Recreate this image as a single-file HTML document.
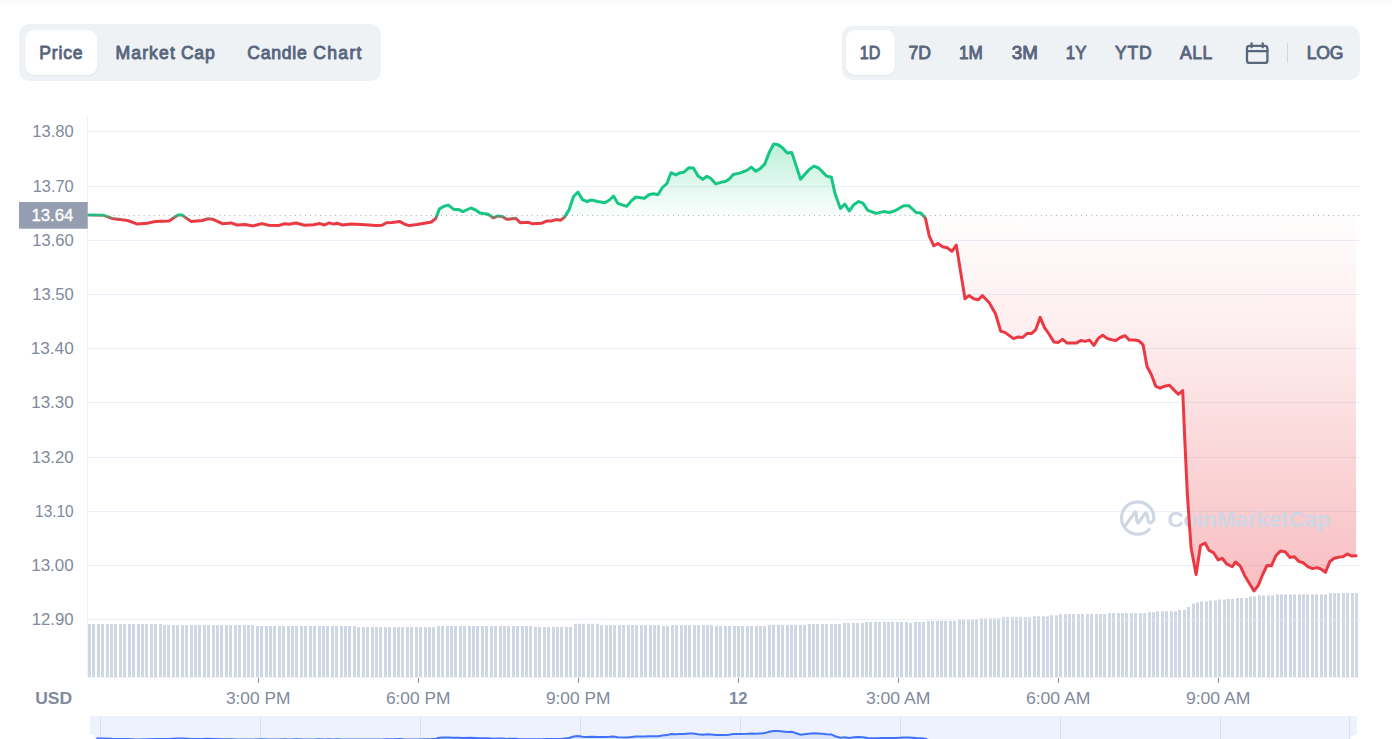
<!DOCTYPE html>
<html><head><meta charset="utf-8"><title>Chart</title>
<style>
html,body{margin:0;padding:0;background:#fff;}
body{width:1392px;height:739px;overflow:hidden;position:relative;font-family:"Liberation Sans",sans-serif;}
.topstrip{position:absolute;left:0;top:0;width:1392px;height:5px;background:linear-gradient(#f9f9fa 0,#fafafb 60%,#fff 100%);}
.grp{position:absolute;background:#eff2f5;border-radius:10px;}
.sel{position:absolute;background:#fff;border-radius:9px;box-shadow:0 1px 2px rgba(128,138,157,.12);}
svg{position:absolute;left:0;top:0;}
</style></head><body>
<div class="topstrip"></div>
<div class="grp" style="left:19px;top:24px;width:362px;height:57px;"></div>
<div class="sel" style="left:25px;top:30px;width:72px;height:45px;"></div>
<div class="grp" style="left:842px;top:26px;width:518px;height:54px;"></div>
<div class="sel" style="left:846px;top:30px;width:49px;height:45px;"></div>
<svg width="1392" height="739" viewBox="0 0 1392 739" font-family="Liberation Sans, sans-serif">
<defs>
<linearGradient id="gg" x1="0" y1="144" x2="0" y2="215" gradientUnits="userSpaceOnUse"><stop offset="0" stop-color="#16c784" stop-opacity="0.28"/><stop offset="1" stop-color="#16c784" stop-opacity="0.02"/></linearGradient>
<linearGradient id="rg" x1="0" y1="215" x2="0" y2="591" gradientUnits="userSpaceOnUse"><stop offset="0" stop-color="#ea3943" stop-opacity="0.01"/><stop offset="0.3" stop-color="#ea3943" stop-opacity="0.085"/><stop offset="1" stop-color="#ea3943" stop-opacity="0.33"/></linearGradient>
<linearGradient id="lg" x1="0" y1="0" x2="0" y2="739" gradientUnits="userSpaceOnUse"><stop offset="0.29039" stop-color="#16c784"/><stop offset="0.29716" stop-color="#ea3943"/></linearGradient>
<clipPath id="up"><rect x="0" y="0" width="1392" height="215.0"/></clipPath>
<clipPath id="dn"><rect x="0" y="215.0" width="1392" height="600"/></clipPath>
<clipPath id="navc"><rect x="90" y="716" width="1267" height="23"/></clipPath>
</defs>
<g font-size="17.6" fill="#58667e" stroke="#58667e" stroke-width="0.9" stroke-linejoin="round"><text x="39.3" y="58.7" textLength="43.2" lengthAdjust="spacing">Price</text><text x="115.5" y="58.7" textLength="59.3" lengthAdjust="spacing">Market</text><text x="180.9" y="58.7" textLength="33.8" lengthAdjust="spacing">Cap</text><text x="247.3" y="58.7" textLength="59.5" lengthAdjust="spacing">Candle</text><text x="313.2" y="58.7" textLength="48.3" lengthAdjust="spacing">Chart</text><text x="859.8" y="58.7" textLength="20.5" lengthAdjust="spacingAndGlyphs">1D</text><text x="908.5" y="58.7" textLength="22.5" lengthAdjust="spacingAndGlyphs">7D</text><text x="959.1" y="58.7" textLength="23.8" lengthAdjust="spacingAndGlyphs">1M</text><text x="1011.7" y="58.7" textLength="26.1" lengthAdjust="spacingAndGlyphs">3M</text><text x="1065.8" y="58.7" textLength="20.7" lengthAdjust="spacingAndGlyphs">1Y</text><text x="1115.1" y="58.7" textLength="36.7" lengthAdjust="spacing">YTD</text><text x="1180.1" y="58.7" textLength="32.2" lengthAdjust="spacing">ALL</text><text x="1306.7" y="58.7" textLength="36.8" lengthAdjust="spacing">LOG</text></g>
<!-- calendar icon + divider -->
<g fill="none" stroke="#58667e" stroke-width="2.3" stroke-linecap="round" stroke-linejoin="round">
<rect x="1247" y="45.8" width="20.4" height="17.1" rx="2.5"/><line x1="1247" y1="51.2" x2="1267.4" y2="51.2"/><line x1="1251.6" y1="43.4" x2="1251.6" y2="47.3"/><line x1="1262.7" y1="43.4" x2="1262.7" y2="47.3"/>
</g>
<line x1="1287.5" y1="43.2" x2="1287.5" y2="62.9" stroke="#cfd6e4" stroke-width="1"/>
<!-- grid -->
<g stroke="#ecf0fa" stroke-width="1"><line x1="88" x2="1360" y1="131.50" y2="131.50"/><line x1="88" x2="1360" y1="186.50" y2="186.50"/><line x1="88" x2="1360" y1="240.50" y2="240.50"/><line x1="88" x2="1360" y1="294.50" y2="294.50"/><line x1="88" x2="1360" y1="348.50" y2="348.50"/><line x1="88" x2="1360" y1="402.50" y2="402.50"/><line x1="88" x2="1360" y1="457.50" y2="457.50"/><line x1="88" x2="1360" y1="511.50" y2="511.50"/><line x1="88" x2="1360" y1="565.50" y2="565.50"/><line x1="88" x2="1360" y1="619.50" y2="619.50"/><line x1="87.5" x2="87.5" y1="116" y2="677"/></g>
<g font-size="15.8" fill="#808a9d"><text x="32.2" y="136.7" textLength="41.5" lengthAdjust="spacingAndGlyphs">13.80</text><text x="32.7" y="191.7" textLength="41" lengthAdjust="spacingAndGlyphs">13.70</text><text x="32.2" y="245.7" textLength="41.5" lengthAdjust="spacingAndGlyphs">13.60</text><text x="32.2" y="299.7" textLength="41.5" lengthAdjust="spacingAndGlyphs">13.50</text><text x="30.7" y="353.7" textLength="43" lengthAdjust="spacingAndGlyphs">13.40</text><text x="31.2" y="407.7" textLength="42.5" lengthAdjust="spacingAndGlyphs">13.30</text><text x="31.7" y="462.7" textLength="42" lengthAdjust="spacingAndGlyphs">13.20</text><text x="35.1" y="516.7" textLength="38.6" lengthAdjust="spacingAndGlyphs">13.10</text><text x="31.2" y="570.7" textLength="42.5" lengthAdjust="spacingAndGlyphs">13.00</text><text x="31.7" y="624.7" textLength="42" lengthAdjust="spacingAndGlyphs">12.90</text></g>
<!-- volume -->
<g fill="#cfd6e4"><rect x="88" y="624.0" width="3" height="53.0"/><rect x="92" y="624.0" width="3" height="53.0"/><rect x="97" y="624.0" width="3" height="53.0"/><rect x="101" y="624.0" width="3" height="53.0"/><rect x="106" y="624.0" width="3" height="53.0"/><rect x="110" y="624.0" width="3" height="53.0"/><rect x="114" y="624.0" width="3" height="53.0"/><rect x="119" y="624.0" width="3" height="53.0"/><rect x="123" y="624.0" width="3" height="53.0"/><rect x="128" y="624.0" width="3" height="53.0"/><rect x="132" y="624.0" width="3" height="53.0"/><rect x="137" y="624.0" width="3" height="53.0"/><rect x="141" y="624.0" width="3" height="53.0"/><rect x="145" y="624.0" width="3" height="53.0"/><rect x="150" y="624.0" width="3" height="53.0"/><rect x="154" y="624.0" width="3" height="53.0"/><rect x="159" y="624.0" width="3" height="53.0"/><rect x="163" y="625.0" width="3" height="52.0"/><rect x="167" y="625.0" width="3" height="52.0"/><rect x="172" y="625.0" width="3" height="52.0"/><rect x="176" y="625.0" width="3" height="52.0"/><rect x="181" y="625.0" width="3" height="52.0"/><rect x="185" y="625.0" width="3" height="52.0"/><rect x="190" y="625.0" width="3" height="52.0"/><rect x="194" y="625.0" width="3" height="52.0"/><rect x="198" y="625.0" width="3" height="52.0"/><rect x="203" y="625.0" width="3" height="52.0"/><rect x="207" y="625.0" width="3" height="52.0"/><rect x="212" y="625.0" width="3" height="52.0"/><rect x="216" y="625.0" width="3" height="52.0"/><rect x="220" y="625.0" width="3" height="52.0"/><rect x="225" y="625.0" width="3" height="52.0"/><rect x="229" y="625.0" width="3" height="52.0"/><rect x="234" y="625.0" width="3" height="52.0"/><rect x="238" y="625.0" width="3" height="52.0"/><rect x="243" y="625.0" width="3" height="52.0"/><rect x="247" y="625.0" width="3" height="52.0"/><rect x="251" y="625.0" width="3" height="52.0"/><rect x="256" y="626.0" width="3" height="51.0"/><rect x="260" y="626.0" width="3" height="51.0"/><rect x="265" y="626.0" width="3" height="51.0"/><rect x="269" y="626.0" width="3" height="51.0"/><rect x="273" y="626.0" width="3" height="51.0"/><rect x="278" y="626.0" width="3" height="51.0"/><rect x="282" y="626.0" width="3" height="51.0"/><rect x="287" y="626.0" width="3" height="51.0"/><rect x="291" y="626.0" width="3" height="51.0"/><rect x="295" y="626.0" width="3" height="51.0"/><rect x="300" y="626.0" width="3" height="51.0"/><rect x="304" y="626.0" width="3" height="51.0"/><rect x="309" y="626.0" width="3" height="51.0"/><rect x="313" y="626.0" width="3" height="51.0"/><rect x="318" y="626.0" width="3" height="51.0"/><rect x="322" y="626.0" width="3" height="51.0"/><rect x="326" y="626.0" width="3" height="51.0"/><rect x="331" y="626.0" width="3" height="51.0"/><rect x="335" y="626.0" width="3" height="51.0"/><rect x="340" y="626.0" width="3" height="51.0"/><rect x="344" y="626.0" width="3" height="51.0"/><rect x="348" y="626.0" width="3" height="51.0"/><rect x="353" y="626.0" width="3" height="51.0"/><rect x="357" y="627.2" width="3" height="49.8"/><rect x="362" y="627.2" width="3" height="49.8"/><rect x="366" y="627.2" width="3" height="49.8"/><rect x="371" y="627.2" width="3" height="49.8"/><rect x="375" y="627.2" width="3" height="49.8"/><rect x="379" y="627.2" width="3" height="49.8"/><rect x="384" y="627.2" width="3" height="49.8"/><rect x="388" y="627.2" width="3" height="49.8"/><rect x="393" y="627.2" width="3" height="49.8"/><rect x="397" y="627.2" width="3" height="49.8"/><rect x="401" y="627.2" width="3" height="49.8"/><rect x="406" y="627.2" width="3" height="49.8"/><rect x="410" y="627.2" width="3" height="49.8"/><rect x="415" y="627.2" width="3" height="49.8"/><rect x="419" y="627.2" width="3" height="49.8"/><rect x="424" y="627.2" width="3" height="49.8"/><rect x="428" y="627.2" width="3" height="49.8"/><rect x="432" y="627.2" width="3" height="49.8"/><rect x="437" y="626.0" width="3" height="51.0"/><rect x="441" y="626.0" width="3" height="51.0"/><rect x="446" y="626.0" width="3" height="51.0"/><rect x="450" y="626.0" width="3" height="51.0"/><rect x="454" y="626.0" width="3" height="51.0"/><rect x="459" y="626.0" width="3" height="51.0"/><rect x="463" y="626.0" width="3" height="51.0"/><rect x="468" y="626.0" width="3" height="51.0"/><rect x="472" y="626.0" width="3" height="51.0"/><rect x="476" y="626.0" width="3" height="51.0"/><rect x="481" y="626.0" width="3" height="51.0"/><rect x="485" y="626.0" width="3" height="51.0"/><rect x="490" y="626.0" width="3" height="51.0"/><rect x="494" y="626.0" width="3" height="51.0"/><rect x="499" y="626.0" width="3" height="51.0"/><rect x="503" y="626.0" width="3" height="51.0"/><rect x="507" y="626.0" width="3" height="51.0"/><rect x="512" y="626.0" width="3" height="51.0"/><rect x="516" y="626.0" width="3" height="51.0"/><rect x="521" y="626.0" width="3" height="51.0"/><rect x="525" y="626.0" width="3" height="51.0"/><rect x="529" y="626.0" width="3" height="51.0"/><rect x="534" y="627.0" width="3" height="50.0"/><rect x="538" y="627.0" width="3" height="50.0"/><rect x="543" y="627.0" width="3" height="50.0"/><rect x="547" y="627.0" width="3" height="50.0"/><rect x="552" y="627.0" width="3" height="50.0"/><rect x="556" y="627.0" width="3" height="50.0"/><rect x="560" y="627.0" width="3" height="50.0"/><rect x="565" y="627.0" width="3" height="50.0"/><rect x="569" y="627.0" width="3" height="50.0"/><rect x="574" y="623.8" width="3" height="53.2"/><rect x="578" y="623.8" width="3" height="53.2"/><rect x="582" y="623.8" width="3" height="53.2"/><rect x="587" y="623.8" width="3" height="53.2"/><rect x="591" y="623.8" width="3" height="53.2"/><rect x="596" y="623.8" width="3" height="53.2"/><rect x="600" y="625.0" width="3" height="52.0"/><rect x="605" y="625.0" width="3" height="52.0"/><rect x="609" y="625.0" width="3" height="52.0"/><rect x="613" y="625.0" width="3" height="52.0"/><rect x="618" y="625.0" width="3" height="52.0"/><rect x="622" y="625.0" width="3" height="52.0"/><rect x="627" y="625.0" width="3" height="52.0"/><rect x="631" y="625.0" width="3" height="52.0"/><rect x="635" y="625.0" width="3" height="52.0"/><rect x="640" y="625.0" width="3" height="52.0"/><rect x="644" y="625.0" width="3" height="52.0"/><rect x="649" y="625.0" width="3" height="52.0"/><rect x="653" y="625.0" width="3" height="52.0"/><rect x="657" y="625.0" width="3" height="52.0"/><rect x="662" y="626.0" width="3" height="51.0"/><rect x="666" y="626.0" width="3" height="51.0"/><rect x="671" y="625.0" width="3" height="52.0"/><rect x="675" y="625.0" width="3" height="52.0"/><rect x="680" y="625.0" width="3" height="52.0"/><rect x="684" y="625.0" width="3" height="52.0"/><rect x="688" y="625.0" width="3" height="52.0"/><rect x="693" y="625.0" width="3" height="52.0"/><rect x="697" y="625.0" width="3" height="52.0"/><rect x="702" y="625.0" width="3" height="52.0"/><rect x="706" y="625.0" width="3" height="52.0"/><rect x="710" y="625.0" width="3" height="52.0"/><rect x="715" y="626.0" width="3" height="51.0"/><rect x="719" y="626.0" width="3" height="51.0"/><rect x="724" y="626.0" width="3" height="51.0"/><rect x="728" y="626.0" width="3" height="51.0"/><rect x="733" y="626.0" width="3" height="51.0"/><rect x="737" y="626.0" width="3" height="51.0"/><rect x="741" y="626.0" width="3" height="51.0"/><rect x="746" y="626.0" width="3" height="51.0"/><rect x="750" y="626.0" width="3" height="51.0"/><rect x="755" y="626.0" width="3" height="51.0"/><rect x="759" y="626.0" width="3" height="51.0"/><rect x="763" y="626.0" width="3" height="51.0"/><rect x="768" y="624.9" width="3" height="52.1"/><rect x="772" y="624.9" width="3" height="52.1"/><rect x="777" y="624.9" width="3" height="52.1"/><rect x="781" y="624.9" width="3" height="52.1"/><rect x="786" y="624.9" width="3" height="52.1"/><rect x="790" y="624.9" width="3" height="52.1"/><rect x="794" y="624.9" width="3" height="52.1"/><rect x="799" y="624.9" width="3" height="52.1"/><rect x="803" y="624.9" width="3" height="52.1"/><rect x="808" y="624.0" width="3" height="53.0"/><rect x="812" y="624.0" width="3" height="53.0"/><rect x="816" y="624.0" width="3" height="53.0"/><rect x="821" y="624.0" width="3" height="53.0"/><rect x="825" y="624.0" width="3" height="53.0"/><rect x="830" y="624.0" width="3" height="53.0"/><rect x="834" y="624.0" width="3" height="53.0"/><rect x="838" y="624.0" width="3" height="53.0"/><rect x="843" y="623.0" width="3" height="54.0"/><rect x="847" y="623.0" width="3" height="54.0"/><rect x="852" y="623.0" width="3" height="54.0"/><rect x="856" y="623.0" width="3" height="54.0"/><rect x="861" y="623.0" width="3" height="54.0"/><rect x="865" y="622.1" width="3" height="54.9"/><rect x="869" y="622.1" width="3" height="54.9"/><rect x="874" y="622.1" width="3" height="54.9"/><rect x="878" y="622.1" width="3" height="54.9"/><rect x="883" y="622.1" width="3" height="54.9"/><rect x="887" y="622.1" width="3" height="54.9"/><rect x="891" y="622.1" width="3" height="54.9"/><rect x="896" y="622.1" width="3" height="54.9"/><rect x="900" y="622.1" width="3" height="54.9"/><rect x="905" y="622.1" width="3" height="54.9"/><rect x="909" y="623.0" width="3" height="54.0"/><rect x="914" y="622.0" width="3" height="55.0"/><rect x="918" y="622.0" width="3" height="55.0"/><rect x="922" y="622.0" width="3" height="55.0"/><rect x="927" y="620.9" width="3" height="56.1"/><rect x="931" y="620.9" width="3" height="56.1"/><rect x="936" y="620.9" width="3" height="56.1"/><rect x="940" y="620.9" width="3" height="56.1"/><rect x="944" y="620.9" width="3" height="56.1"/><rect x="949" y="620.9" width="3" height="56.1"/><rect x="953" y="620.9" width="3" height="56.1"/><rect x="958" y="619.3" width="3" height="57.7"/><rect x="962" y="619.3" width="3" height="57.7"/><rect x="967" y="619.3" width="3" height="57.7"/><rect x="971" y="619.3" width="3" height="57.7"/><rect x="975" y="619.3" width="3" height="57.7"/><rect x="980" y="618.4" width="3" height="58.6"/><rect x="984" y="618.4" width="3" height="58.6"/><rect x="989" y="618.4" width="3" height="58.6"/><rect x="993" y="618.4" width="3" height="58.6"/><rect x="997" y="618.4" width="3" height="58.6"/><rect x="1002" y="617.2" width="3" height="59.8"/><rect x="1006" y="617.2" width="3" height="59.8"/><rect x="1011" y="617.2" width="3" height="59.8"/><rect x="1015" y="617.2" width="3" height="59.8"/><rect x="1019" y="617.2" width="3" height="59.8"/><rect x="1024" y="617.2" width="3" height="59.8"/><rect x="1028" y="617.2" width="3" height="59.8"/><rect x="1033" y="616.3" width="3" height="60.7"/><rect x="1037" y="616.3" width="3" height="60.7"/><rect x="1042" y="616.3" width="3" height="60.7"/><rect x="1046" y="616.3" width="3" height="60.7"/><rect x="1050" y="615.3" width="3" height="61.7"/><rect x="1055" y="615.3" width="3" height="61.7"/><rect x="1059" y="614.1" width="3" height="62.9"/><rect x="1064" y="614.1" width="3" height="62.9"/><rect x="1068" y="614.1" width="3" height="62.9"/><rect x="1072" y="614.1" width="3" height="62.9"/><rect x="1077" y="614.1" width="3" height="62.9"/><rect x="1081" y="614.1" width="3" height="62.9"/><rect x="1086" y="614.1" width="3" height="62.9"/><rect x="1090" y="614.1" width="3" height="62.9"/><rect x="1095" y="614.1" width="3" height="62.9"/><rect x="1099" y="614.1" width="3" height="62.9"/><rect x="1103" y="614.1" width="3" height="62.9"/><rect x="1108" y="613.2" width="3" height="63.8"/><rect x="1112" y="613.2" width="3" height="63.8"/><rect x="1117" y="613.2" width="3" height="63.8"/><rect x="1121" y="613.2" width="3" height="63.8"/><rect x="1125" y="613.2" width="3" height="63.8"/><rect x="1130" y="613.2" width="3" height="63.8"/><rect x="1134" y="613.2" width="3" height="63.8"/><rect x="1139" y="613.2" width="3" height="63.8"/><rect x="1143" y="613.2" width="3" height="63.8"/><rect x="1148" y="612.2" width="3" height="64.8"/><rect x="1152" y="612.2" width="3" height="64.8"/><rect x="1156" y="611.3" width="3" height="65.7"/><rect x="1161" y="611.3" width="3" height="65.7"/><rect x="1165" y="611.3" width="3" height="65.7"/><rect x="1170" y="611.3" width="3" height="65.7"/><rect x="1174" y="611.3" width="3" height="65.7"/><rect x="1178" y="610.0" width="3" height="67.0"/><rect x="1183" y="610.0" width="3" height="67.0"/><rect x="1187" y="607.0" width="3" height="70.0"/><rect x="1192" y="603.5" width="3" height="73.5"/><rect x="1196" y="602.3" width="3" height="74.7"/><rect x="1200" y="601.4" width="3" height="75.6"/><rect x="1205" y="601.4" width="3" height="75.6"/><rect x="1209" y="600.5" width="3" height="76.5"/><rect x="1214" y="600.5" width="3" height="76.5"/><rect x="1218" y="599.5" width="3" height="77.5"/><rect x="1223" y="599.5" width="3" height="77.5"/><rect x="1227" y="598.8" width="3" height="78.2"/><rect x="1231" y="598.8" width="3" height="78.2"/><rect x="1236" y="598.0" width="3" height="79.0"/><rect x="1240" y="598.0" width="3" height="79.0"/><rect x="1245" y="598.0" width="3" height="79.0"/><rect x="1249" y="596.5" width="3" height="80.5"/><rect x="1253" y="596.5" width="3" height="80.5"/><rect x="1258" y="595.3" width="3" height="81.7"/><rect x="1262" y="595.3" width="3" height="81.7"/><rect x="1267" y="595.3" width="3" height="81.7"/><rect x="1271" y="595.3" width="3" height="81.7"/><rect x="1276" y="594.3" width="3" height="82.7"/><rect x="1280" y="594.3" width="3" height="82.7"/><rect x="1284" y="594.3" width="3" height="82.7"/><rect x="1289" y="594.3" width="3" height="82.7"/><rect x="1293" y="594.3" width="3" height="82.7"/><rect x="1298" y="594.3" width="3" height="82.7"/><rect x="1302" y="594.3" width="3" height="82.7"/><rect x="1306" y="594.3" width="3" height="82.7"/><rect x="1311" y="594.3" width="3" height="82.7"/><rect x="1315" y="594.3" width="3" height="82.7"/><rect x="1320" y="594.3" width="3" height="82.7"/><rect x="1324" y="594.3" width="3" height="82.7"/><rect x="1329" y="593.0" width="3" height="84.0"/><rect x="1333" y="593.0" width="3" height="84.0"/><rect x="1337" y="593.0" width="3" height="84.0"/><rect x="1342" y="593.0" width="3" height="84.0"/><rect x="1346" y="593.0" width="3" height="84.0"/><rect x="1351" y="593.0" width="3" height="84.0"/><rect x="1355" y="593.0" width="3" height="84.0"/></g>
<line x1="957" x2="1360" y1="619.5" y2="619.5" stroke="#eef1f8" stroke-opacity="0.55"/>
<!-- areas -->
<path d="M88.6,215.1 L103.0,215.2 L112.0,218.4 L127.6,220.5 L137.5,224.1 L147.0,223.2 L156.0,221.4 L169.0,220.9 L178.0,215.1 L182.0,215.0 L191.0,221.4 L202.0,220.5 L208.0,218.7 L213.0,219.3 L223.0,223.8 L231.0,222.9 L237.0,225.0 L245.0,224.5 L253.0,225.9 L262.0,223.6 L268.6,225.2 L279.0,225.4 L284.7,223.8 L289.0,224.3 L296.0,223.0 L304.5,225.2 L313.5,224.7 L319.8,223.6 L324.5,225.0 L329.0,222.9 L333.5,224.1 L337.0,223.2 L342.5,225.0 L351.4,224.1 L365.0,224.7 L375.7,225.4 L382.0,225.2 L386.5,222.7 L392.0,222.5 L400.0,221.6 L405.3,224.5 L409.8,225.6 L417.0,224.5 L426.0,222.9 L431.4,222.0 L435.8,218.4 L439.4,208.9 L444.0,206.2 L448.4,205.1 L453.8,209.4 L458.3,209.4 L462.8,211.6 L470.9,208.0 L475.4,209.8 L479.8,213.0 L488.0,214.2 L493.3,217.8 L497.8,216.0 L502.3,216.4 L506.8,219.3 L515.8,218.2 L520.3,222.7 L528.3,222.3 L532.8,223.8 L541.8,223.2 L547.2,220.9 L551.7,220.9 L556.2,219.6 L560.7,220.2 L564.5,217.1 L569.0,209.9 L573.5,196.5 L578.0,192.0 L582.5,199.7 L587.0,201.5 L591.4,200.0 L597.7,201.5 L604.9,202.7 L609.4,200.0 L613.5,196.1 L617.8,203.3 L626.8,206.3 L631.3,200.9 L635.8,197.0 L644.4,198.2 L648.9,194.7 L653.4,193.8 L657.9,194.7 L662.4,187.5 L666.9,183.5 L671.0,172.7 L675.8,174.9 L680.3,172.7 L683.9,172.2 L689.0,167.7 L693.4,168.1 L697.9,175.8 L702.8,179.4 L706.9,176.3 L710.9,178.5 L715.9,183.9 L721.6,182.1 L725.2,181.5 L728.8,179.4 L733.3,174.5 L739.6,173.1 L746.8,170.4 L751.3,167.2 L755.8,171.3 L760.2,168.6 L764.7,164.1 L769.2,152.5 L773.7,144.0 L778.2,144.7 L782.7,148.0 L787.2,153.0 L791.7,152.4 L796.2,165.9 L800.5,179.3 L808.7,169.9 L814.0,166.1 L818.6,168.0 L826.7,176.1 L831.4,177.3 L835.1,193.8 L840.4,208.5 L844.8,204.1 L849.2,211.0 L853.8,204.7 L858.5,201.6 L862.9,203.2 L867.8,210.3 L876.2,213.4 L883.4,211.6 L889.6,212.5 L895.9,210.3 L903.6,205.7 L908.9,205.7 L916.1,212.5 L920.8,213.1 L925.4,218.1 L929.2,235.9 L933.8,245.8 L937.9,243.6 L942.6,246.7 L947.2,247.7 L951.9,251.4 L956.3,245.2 L960.6,271.7 L965.0,298.7 L969.0,295.6 L973.7,298.7 L978.4,299.7 L982.4,295.6 L989.3,302.8 L995.5,313.7 L1000.8,331.4 L1004.8,332.4 L1013.5,338.6 L1017.9,337.0 L1022.6,337.5 L1027.0,333.6 L1031.4,333.6 L1035.8,329.6 L1040.2,317.3 L1044.6,327.8 L1049.0,334.0 L1053.8,341.9 L1058.3,342.4 L1062.6,339.3 L1067.1,343.1 L1076.3,343.1 L1080.7,340.5 L1085.1,341.4 L1089.5,340.1 L1093.9,345.4 L1098.3,338.4 L1102.7,335.2 L1107.1,338.4 L1111.5,339.8 L1115.9,340.5 L1120.3,337.5 L1125.0,335.7 L1129.4,340.1 L1134.3,340.1 L1138.7,340.7 L1143.1,344.9 L1147.0,366.5 L1151.4,374.8 L1155.8,386.4 L1160.2,388.2 L1164.6,386.2 L1169.5,385.3 L1173.9,389.9 L1178.3,394.3 L1182.7,390.6 L1184.9,442.2 L1187.4,495.1 L1191.1,548.0 L1196.1,574.5 L1200.5,545.5 L1205.1,543.0 L1209.2,550.5 L1213.5,552.7 L1218.2,559.9 L1222.2,558.3 L1226.9,564.2 L1232.2,566.7 L1235.6,562.0 L1240.3,566.1 L1244.6,575.4 L1249.6,583.8 L1254.0,591.0 L1258.3,585.4 L1262.7,574.5 L1267.0,565.5 L1271.4,565.8 L1275.8,555.8 L1280.4,551.1 L1285.1,551.8 L1290.1,557.4 L1294.4,556.8 L1298.8,561.4 L1303.1,562.7 L1307.8,566.7 L1312.5,568.6 L1317.1,567.6 L1321.2,569.2 L1325.5,572.3 L1329.9,561.4 L1334.3,558.3 L1338.9,557.1 L1343.0,556.8 L1347.3,553.9 L1351.7,556.1 L1356.0,555.8 L1356.0,215.0 L88.6,215.0 Z" fill="url(#gg)" clip-path="url(#up)"/>
<path d="M88.6,215.1 L103.0,215.2 L112.0,218.4 L127.6,220.5 L137.5,224.1 L147.0,223.2 L156.0,221.4 L169.0,220.9 L178.0,215.1 L182.0,215.0 L191.0,221.4 L202.0,220.5 L208.0,218.7 L213.0,219.3 L223.0,223.8 L231.0,222.9 L237.0,225.0 L245.0,224.5 L253.0,225.9 L262.0,223.6 L268.6,225.2 L279.0,225.4 L284.7,223.8 L289.0,224.3 L296.0,223.0 L304.5,225.2 L313.5,224.7 L319.8,223.6 L324.5,225.0 L329.0,222.9 L333.5,224.1 L337.0,223.2 L342.5,225.0 L351.4,224.1 L365.0,224.7 L375.7,225.4 L382.0,225.2 L386.5,222.7 L392.0,222.5 L400.0,221.6 L405.3,224.5 L409.8,225.6 L417.0,224.5 L426.0,222.9 L431.4,222.0 L435.8,218.4 L439.4,208.9 L444.0,206.2 L448.4,205.1 L453.8,209.4 L458.3,209.4 L462.8,211.6 L470.9,208.0 L475.4,209.8 L479.8,213.0 L488.0,214.2 L493.3,217.8 L497.8,216.0 L502.3,216.4 L506.8,219.3 L515.8,218.2 L520.3,222.7 L528.3,222.3 L532.8,223.8 L541.8,223.2 L547.2,220.9 L551.7,220.9 L556.2,219.6 L560.7,220.2 L564.5,217.1 L569.0,209.9 L573.5,196.5 L578.0,192.0 L582.5,199.7 L587.0,201.5 L591.4,200.0 L597.7,201.5 L604.9,202.7 L609.4,200.0 L613.5,196.1 L617.8,203.3 L626.8,206.3 L631.3,200.9 L635.8,197.0 L644.4,198.2 L648.9,194.7 L653.4,193.8 L657.9,194.7 L662.4,187.5 L666.9,183.5 L671.0,172.7 L675.8,174.9 L680.3,172.7 L683.9,172.2 L689.0,167.7 L693.4,168.1 L697.9,175.8 L702.8,179.4 L706.9,176.3 L710.9,178.5 L715.9,183.9 L721.6,182.1 L725.2,181.5 L728.8,179.4 L733.3,174.5 L739.6,173.1 L746.8,170.4 L751.3,167.2 L755.8,171.3 L760.2,168.6 L764.7,164.1 L769.2,152.5 L773.7,144.0 L778.2,144.7 L782.7,148.0 L787.2,153.0 L791.7,152.4 L796.2,165.9 L800.5,179.3 L808.7,169.9 L814.0,166.1 L818.6,168.0 L826.7,176.1 L831.4,177.3 L835.1,193.8 L840.4,208.5 L844.8,204.1 L849.2,211.0 L853.8,204.7 L858.5,201.6 L862.9,203.2 L867.8,210.3 L876.2,213.4 L883.4,211.6 L889.6,212.5 L895.9,210.3 L903.6,205.7 L908.9,205.7 L916.1,212.5 L920.8,213.1 L925.4,218.1 L929.2,235.9 L933.8,245.8 L937.9,243.6 L942.6,246.7 L947.2,247.7 L951.9,251.4 L956.3,245.2 L960.6,271.7 L965.0,298.7 L969.0,295.6 L973.7,298.7 L978.4,299.7 L982.4,295.6 L989.3,302.8 L995.5,313.7 L1000.8,331.4 L1004.8,332.4 L1013.5,338.6 L1017.9,337.0 L1022.6,337.5 L1027.0,333.6 L1031.4,333.6 L1035.8,329.6 L1040.2,317.3 L1044.6,327.8 L1049.0,334.0 L1053.8,341.9 L1058.3,342.4 L1062.6,339.3 L1067.1,343.1 L1076.3,343.1 L1080.7,340.5 L1085.1,341.4 L1089.5,340.1 L1093.9,345.4 L1098.3,338.4 L1102.7,335.2 L1107.1,338.4 L1111.5,339.8 L1115.9,340.5 L1120.3,337.5 L1125.0,335.7 L1129.4,340.1 L1134.3,340.1 L1138.7,340.7 L1143.1,344.9 L1147.0,366.5 L1151.4,374.8 L1155.8,386.4 L1160.2,388.2 L1164.6,386.2 L1169.5,385.3 L1173.9,389.9 L1178.3,394.3 L1182.7,390.6 L1184.9,442.2 L1187.4,495.1 L1191.1,548.0 L1196.1,574.5 L1200.5,545.5 L1205.1,543.0 L1209.2,550.5 L1213.5,552.7 L1218.2,559.9 L1222.2,558.3 L1226.9,564.2 L1232.2,566.7 L1235.6,562.0 L1240.3,566.1 L1244.6,575.4 L1249.6,583.8 L1254.0,591.0 L1258.3,585.4 L1262.7,574.5 L1267.0,565.5 L1271.4,565.8 L1275.8,555.8 L1280.4,551.1 L1285.1,551.8 L1290.1,557.4 L1294.4,556.8 L1298.8,561.4 L1303.1,562.7 L1307.8,566.7 L1312.5,568.6 L1317.1,567.6 L1321.2,569.2 L1325.5,572.3 L1329.9,561.4 L1334.3,558.3 L1338.9,557.1 L1343.0,556.8 L1347.3,553.9 L1351.7,556.1 L1356.0,555.8 L1356.0,215.0 L88.6,215.0 Z" fill="url(#rg)" clip-path="url(#dn)"/>
<!-- baseline -->
<line x1="88.2" x2="1360" y1="215.5" y2="215.5" stroke="#a3abba" stroke-width="1" stroke-dasharray="1 4.04"/>
<!-- watermark -->
<g opacity="1">
<path d="M1149.2,529.5 A16.2,16.2 0 1 1 1153.9,518 Q1153.9,521 1151,522.6 Q1149,523.6 1148.2,520.5 L1146.8,514 Q1146.3,511.8 1145,513.5 L1139,522 Q1137.5,524 1137,521.5 L1136,513 Q1135.6,511 1134.6,512.6 L1125.8,525" fill="none" stroke="#cfd6e4" stroke-width="3.1" stroke-linecap="round" stroke-linejoin="round"/>
<text x="1167.4" y="526.7" font-size="21.6" font-weight="bold" fill="#cfd6e4" textLength="163" lengthAdjust="spacingAndGlyphs">CoinMarketCap</text>
</g>
<!-- lines -->
<path d="M88.6,215.1 L103.0,215.2 L112.0,218.4 L127.6,220.5 L137.5,224.1 L147.0,223.2 L156.0,221.4 L169.0,220.9 L178.0,215.1 L182.0,215.0 L191.0,221.4 L202.0,220.5 L208.0,218.7 L213.0,219.3 L223.0,223.8 L231.0,222.9 L237.0,225.0 L245.0,224.5 L253.0,225.9 L262.0,223.6 L268.6,225.2 L279.0,225.4 L284.7,223.8 L289.0,224.3 L296.0,223.0 L304.5,225.2 L313.5,224.7 L319.8,223.6 L324.5,225.0 L329.0,222.9 L333.5,224.1 L337.0,223.2 L342.5,225.0 L351.4,224.1 L365.0,224.7 L375.7,225.4 L382.0,225.2 L386.5,222.7 L392.0,222.5 L400.0,221.6 L405.3,224.5 L409.8,225.6 L417.0,224.5 L426.0,222.9 L431.4,222.0 L435.8,218.4 L439.4,208.9 L444.0,206.2 L448.4,205.1 L453.8,209.4 L458.3,209.4 L462.8,211.6 L470.9,208.0 L475.4,209.8 L479.8,213.0 L488.0,214.2 L493.3,217.8 L497.8,216.0 L502.3,216.4 L506.8,219.3 L515.8,218.2 L520.3,222.7 L528.3,222.3 L532.8,223.8 L541.8,223.2 L547.2,220.9 L551.7,220.9 L556.2,219.6 L560.7,220.2 L564.5,217.1 L569.0,209.9 L573.5,196.5 L578.0,192.0 L582.5,199.7 L587.0,201.5 L591.4,200.0 L597.7,201.5 L604.9,202.7 L609.4,200.0 L613.5,196.1 L617.8,203.3 L626.8,206.3 L631.3,200.9 L635.8,197.0 L644.4,198.2 L648.9,194.7 L653.4,193.8 L657.9,194.7 L662.4,187.5 L666.9,183.5 L671.0,172.7 L675.8,174.9 L680.3,172.7 L683.9,172.2 L689.0,167.7 L693.4,168.1 L697.9,175.8 L702.8,179.4 L706.9,176.3 L710.9,178.5 L715.9,183.9 L721.6,182.1 L725.2,181.5 L728.8,179.4 L733.3,174.5 L739.6,173.1 L746.8,170.4 L751.3,167.2 L755.8,171.3 L760.2,168.6 L764.7,164.1 L769.2,152.5 L773.7,144.0 L778.2,144.7 L782.7,148.0 L787.2,153.0 L791.7,152.4 L796.2,165.9 L800.5,179.3 L808.7,169.9 L814.0,166.1 L818.6,168.0 L826.7,176.1 L831.4,177.3 L835.1,193.8 L840.4,208.5 L844.8,204.1 L849.2,211.0 L853.8,204.7 L858.5,201.6 L862.9,203.2 L867.8,210.3 L876.2,213.4 L883.4,211.6 L889.6,212.5 L895.9,210.3 L903.6,205.7 L908.9,205.7 L916.1,212.5 L920.8,213.1 L925.4,218.1 L929.2,235.9 L933.8,245.8 L937.9,243.6 L942.6,246.7 L947.2,247.7 L951.9,251.4 L956.3,245.2 L960.6,271.7 L965.0,298.7 L969.0,295.6 L973.7,298.7 L978.4,299.7 L982.4,295.6 L989.3,302.8 L995.5,313.7 L1000.8,331.4 L1004.8,332.4 L1013.5,338.6 L1017.9,337.0 L1022.6,337.5 L1027.0,333.6 L1031.4,333.6 L1035.8,329.6 L1040.2,317.3 L1044.6,327.8 L1049.0,334.0 L1053.8,341.9 L1058.3,342.4 L1062.6,339.3 L1067.1,343.1 L1076.3,343.1 L1080.7,340.5 L1085.1,341.4 L1089.5,340.1 L1093.9,345.4 L1098.3,338.4 L1102.7,335.2 L1107.1,338.4 L1111.5,339.8 L1115.9,340.5 L1120.3,337.5 L1125.0,335.7 L1129.4,340.1 L1134.3,340.1 L1138.7,340.7 L1143.1,344.9 L1147.0,366.5 L1151.4,374.8 L1155.8,386.4 L1160.2,388.2 L1164.6,386.2 L1169.5,385.3 L1173.9,389.9 L1178.3,394.3 L1182.7,390.6 L1184.9,442.2 L1187.4,495.1 L1191.1,548.0 L1196.1,574.5 L1200.5,545.5 L1205.1,543.0 L1209.2,550.5 L1213.5,552.7 L1218.2,559.9 L1222.2,558.3 L1226.9,564.2 L1232.2,566.7 L1235.6,562.0 L1240.3,566.1 L1244.6,575.4 L1249.6,583.8 L1254.0,591.0 L1258.3,585.4 L1262.7,574.5 L1267.0,565.5 L1271.4,565.8 L1275.8,555.8 L1280.4,551.1 L1285.1,551.8 L1290.1,557.4 L1294.4,556.8 L1298.8,561.4 L1303.1,562.7 L1307.8,566.7 L1312.5,568.6 L1317.1,567.6 L1321.2,569.2 L1325.5,572.3 L1329.9,561.4 L1334.3,558.3 L1338.9,557.1 L1343.0,556.8 L1347.3,553.9 L1351.7,556.1 L1356.0,555.8" fill="none" stroke="url(#lg)" stroke-width="3" stroke-linejoin="round" stroke-linecap="round"/>
<!-- price tag -->
<rect x="19" y="202" width="68.7" height="26.7" fill="#959eb1"/>
<text x="31.4" y="220.7" font-size="16.2" fill="#fff" stroke="#fff" stroke-width="0.35" textLength="42" lengthAdjust="spacingAndGlyphs">13.64</text>
<!-- x axis -->
<g stroke="#808a9d" stroke-width="1" shape-rendering="crispEdges"><line x1="258.5" x2="258.5" y1="678" y2="683"/><line x1="418.5" x2="418.5" y1="678" y2="683"/><line x1="578.5" x2="578.5" y1="678" y2="683"/><line x1="738.5" x2="738.5" y1="678" y2="683"/><line x1="898.5" x2="898.5" y1="678" y2="683"/><line x1="1058.5" x2="1058.5" y1="678" y2="683"/><line x1="1218.5" x2="1218.5" y1="678" y2="683"/></g>
<g font-size="16.8" fill="#808a9d"><text x="225.9" y="704" textLength="64.6" lengthAdjust="spacingAndGlyphs">3:00 PM</text><text x="385.9" y="704" textLength="64.6" lengthAdjust="spacingAndGlyphs">6:00 PM</text><text x="545.9" y="704" textLength="64.6" lengthAdjust="spacingAndGlyphs">9:00 PM</text><text x="729.0" y="704" textLength="18.5" lengthAdjust="spacingAndGlyphs" font-weight="bold">12</text><text x="865.9" y="704" textLength="64.6" lengthAdjust="spacingAndGlyphs">3:00 AM</text><text x="1025.9" y="704" textLength="64.6" lengthAdjust="spacingAndGlyphs">6:00 AM</text><text x="1185.9" y="704" textLength="64.6" lengthAdjust="spacingAndGlyphs">9:00 AM</text></g>
<text x="35.2" y="704" font-size="16.8" font-weight="bold" fill="#808a9d" textLength="37" lengthAdjust="spacingAndGlyphs">USD</text>
<line x1="88" x2="1360" y1="677.5" y2="677.5" stroke="#eff2f5" stroke-width="1"/>
<!-- navigator -->
<rect x="90" y="716" width="1267" height="23" fill="#eef2fd"/>
<g stroke="#d9dff6" stroke-width="1" shape-rendering="crispEdges"><line x1="100.5" x2="100.5" y1="716" y2="739"/><line x1="260.5" x2="260.5" y1="716" y2="739"/><line x1="420.5" x2="420.5" y1="716" y2="739"/><line x1="580.5" x2="580.5" y1="716" y2="739"/><line x1="740.5" x2="740.5" y1="716" y2="739"/><line x1="900.5" x2="900.5" y1="716" y2="739"/><line x1="1060.5" x2="1060.5" y1="716" y2="739"/><line x1="1220.5" x2="1220.5" y1="716" y2="739"/><line x1="1349.5" x2="1349.5" y1="716" y2="739"/></g>
<g clip-path="url(#navc)"><path d="M88.6,738.4 L103.0,738.4 L112.0,738.8 L127.6,739.0 L137.5,739.4 L147.0,739.3 L156.0,739.1 L169.0,739.0 L178.0,738.4 L182.0,738.4 L191.0,739.1 L202.0,739.0 L208.0,738.8 L213.0,738.9 L223.0,739.3 L231.0,739.2 L237.0,739.4 L245.0,739.4 L253.0,739.5 L262.0,739.3 L268.6,739.5 L279.0,739.5 L284.7,739.3 L289.0,739.4 L296.0,739.2 L304.5,739.5 L313.5,739.4 L319.8,739.3 L324.5,739.4 L329.0,739.2 L333.5,739.4 L337.0,739.3 L342.5,739.4 L351.4,739.4 L365.0,739.4 L375.7,739.5 L382.0,739.5 L386.5,739.2 L392.0,739.2 L400.0,739.1 L405.3,739.4 L409.8,739.5 L417.0,739.4 L426.0,739.2 L431.4,739.1 L435.8,738.8 L439.4,737.8 L444.0,737.5 L448.4,737.4 L453.8,737.8 L458.3,737.8 L462.8,738.0 L470.9,737.7 L475.4,737.9 L479.8,738.2 L488.0,738.3 L493.3,738.7 L497.8,738.5 L502.3,738.5 L506.8,738.9 L515.8,738.7 L520.3,739.2 L528.3,739.2 L532.8,739.3 L541.8,739.3 L547.2,739.0 L551.7,739.0 L556.2,738.9 L560.7,738.9 L564.5,738.6 L569.0,737.9 L573.5,736.5 L578.0,736.0 L582.5,736.8 L587.0,737.0 L591.4,736.8 L597.7,737.0 L604.9,737.1 L609.4,736.8 L613.5,736.4 L617.8,737.2 L626.8,737.5 L631.3,736.9 L635.8,736.5 L644.4,736.6 L648.9,736.3 L653.4,736.2 L657.9,736.3 L662.4,735.5 L666.9,735.1 L671.0,734.0 L675.8,734.2 L680.3,734.0 L683.9,733.9 L689.0,733.4 L693.4,733.5 L697.9,734.3 L702.8,734.7 L706.9,734.3 L710.9,734.6 L715.9,735.1 L721.6,734.9 L725.2,734.9 L728.8,734.7 L733.3,734.1 L739.6,734.0 L746.8,733.7 L751.3,733.4 L755.8,733.8 L760.2,733.5 L764.7,733.1 L769.2,731.8 L773.7,730.9 L778.2,731.0 L782.7,731.4 L787.2,731.9 L791.7,731.8 L796.2,733.2 L800.5,734.7 L808.7,733.7 L814.0,733.3 L818.6,733.5 L826.7,734.3 L831.4,734.4 L835.1,736.2 L840.4,737.7 L844.8,737.3 L849.2,738.0 L853.8,737.3 L858.5,737.0 L862.9,737.2 L867.8,737.9 L876.2,738.2 L883.4,738.0 L889.6,738.1 L895.9,737.9 L903.6,737.4 L908.9,737.4 L916.1,738.1 L920.8,738.2 L925.4,738.7 L929.2,740.6 L933.8,741.6 L937.9,741.4 L942.6,741.7 L947.2,741.8 L951.9,742.2 L956.3,741.6 L960.6,744.4 L965.0,747.2 L969.0,746.9 L973.7,747.2 L978.4,747.3 L982.4,746.9 L989.3,747.6 L995.5,748.8 L1000.8,750.6 L1004.8,750.7 L1013.5,751.4 L1017.9,751.2 L1022.6,751.3 L1027.0,750.9 L1031.4,750.9 L1035.8,750.4 L1040.2,749.1 L1044.6,750.2 L1049.0,750.9 L1053.8,751.7 L1058.3,751.8 L1062.6,751.5 L1067.1,751.9 L1076.3,751.9 L1080.7,751.6 L1085.1,751.7 L1089.5,751.5 L1093.9,752.1 L1098.3,751.4 L1102.7,751.0 L1107.1,751.4 L1111.5,751.5 L1115.9,751.6 L1120.3,751.3 L1125.0,751.1 L1129.4,751.5 L1134.3,751.5 L1138.7,751.6 L1143.1,752.0 L1147.0,754.3 L1151.4,755.2 L1155.8,756.4 L1160.2,756.6 L1164.6,756.4 L1169.5,756.3 L1173.9,756.8 L1178.3,757.2 L1182.7,756.8 L1184.9,762.3 L1187.4,767.8 L1191.1,773.4 L1196.1,776.1 L1200.5,773.1 L1205.1,772.8 L1209.2,773.6 L1213.5,773.9 L1218.2,774.6 L1222.2,774.4 L1226.9,775.1 L1232.2,775.3 L1235.6,774.8 L1240.3,775.3 L1244.6,776.2 L1249.6,777.1 L1254.0,777.9 L1258.3,777.3 L1262.7,776.1 L1267.0,775.2 L1271.4,775.2 L1275.8,774.2 L1280.4,773.7 L1285.1,773.8 L1290.1,774.4 L1294.4,774.3 L1298.8,774.8 L1303.1,774.9 L1307.8,775.3 L1312.5,775.5 L1317.1,775.4 L1321.2,775.6 L1325.5,775.9 L1329.9,774.8 L1334.3,774.4 L1338.9,774.3 L1343.0,774.3 L1347.3,774.0 L1351.7,774.2 L1356.0,774.2 L1356.0,760 L88.6,760 Z" fill="#dbe3fb"/><path d="M88.6,738.4 L103.0,738.4 L112.0,738.8 L127.6,739.0 L137.5,739.4 L147.0,739.3 L156.0,739.1 L169.0,739.0 L178.0,738.4 L182.0,738.4 L191.0,739.1 L202.0,739.0 L208.0,738.8 L213.0,738.9 L223.0,739.3 L231.0,739.2 L237.0,739.4 L245.0,739.4 L253.0,739.5 L262.0,739.3 L268.6,739.5 L279.0,739.5 L284.7,739.3 L289.0,739.4 L296.0,739.2 L304.5,739.5 L313.5,739.4 L319.8,739.3 L324.5,739.4 L329.0,739.2 L333.5,739.4 L337.0,739.3 L342.5,739.4 L351.4,739.4 L365.0,739.4 L375.7,739.5 L382.0,739.5 L386.5,739.2 L392.0,739.2 L400.0,739.1 L405.3,739.4 L409.8,739.5 L417.0,739.4 L426.0,739.2 L431.4,739.1 L435.8,738.8 L439.4,737.8 L444.0,737.5 L448.4,737.4 L453.8,737.8 L458.3,737.8 L462.8,738.0 L470.9,737.7 L475.4,737.9 L479.8,738.2 L488.0,738.3 L493.3,738.7 L497.8,738.5 L502.3,738.5 L506.8,738.9 L515.8,738.7 L520.3,739.2 L528.3,739.2 L532.8,739.3 L541.8,739.3 L547.2,739.0 L551.7,739.0 L556.2,738.9 L560.7,738.9 L564.5,738.6 L569.0,737.9 L573.5,736.5 L578.0,736.0 L582.5,736.8 L587.0,737.0 L591.4,736.8 L597.7,737.0 L604.9,737.1 L609.4,736.8 L613.5,736.4 L617.8,737.2 L626.8,737.5 L631.3,736.9 L635.8,736.5 L644.4,736.6 L648.9,736.3 L653.4,736.2 L657.9,736.3 L662.4,735.5 L666.9,735.1 L671.0,734.0 L675.8,734.2 L680.3,734.0 L683.9,733.9 L689.0,733.4 L693.4,733.5 L697.9,734.3 L702.8,734.7 L706.9,734.3 L710.9,734.6 L715.9,735.1 L721.6,734.9 L725.2,734.9 L728.8,734.7 L733.3,734.1 L739.6,734.0 L746.8,733.7 L751.3,733.4 L755.8,733.8 L760.2,733.5 L764.7,733.1 L769.2,731.8 L773.7,730.9 L778.2,731.0 L782.7,731.4 L787.2,731.9 L791.7,731.8 L796.2,733.2 L800.5,734.7 L808.7,733.7 L814.0,733.3 L818.6,733.5 L826.7,734.3 L831.4,734.4 L835.1,736.2 L840.4,737.7 L844.8,737.3 L849.2,738.0 L853.8,737.3 L858.5,737.0 L862.9,737.2 L867.8,737.9 L876.2,738.2 L883.4,738.0 L889.6,738.1 L895.9,737.9 L903.6,737.4 L908.9,737.4 L916.1,738.1 L920.8,738.2 L925.4,738.7 L929.2,740.6 L933.8,741.6 L937.9,741.4 L942.6,741.7 L947.2,741.8 L951.9,742.2 L956.3,741.6 L960.6,744.4 L965.0,747.2 L969.0,746.9 L973.7,747.2 L978.4,747.3 L982.4,746.9 L989.3,747.6 L995.5,748.8 L1000.8,750.6 L1004.8,750.7 L1013.5,751.4 L1017.9,751.2 L1022.6,751.3 L1027.0,750.9 L1031.4,750.9 L1035.8,750.4 L1040.2,749.1 L1044.6,750.2 L1049.0,750.9 L1053.8,751.7 L1058.3,751.8 L1062.6,751.5 L1067.1,751.9 L1076.3,751.9 L1080.7,751.6 L1085.1,751.7 L1089.5,751.5 L1093.9,752.1 L1098.3,751.4 L1102.7,751.0 L1107.1,751.4 L1111.5,751.5 L1115.9,751.6 L1120.3,751.3 L1125.0,751.1 L1129.4,751.5 L1134.3,751.5 L1138.7,751.6 L1143.1,752.0 L1147.0,754.3 L1151.4,755.2 L1155.8,756.4 L1160.2,756.6 L1164.6,756.4 L1169.5,756.3 L1173.9,756.8 L1178.3,757.2 L1182.7,756.8 L1184.9,762.3 L1187.4,767.8 L1191.1,773.4 L1196.1,776.1 L1200.5,773.1 L1205.1,772.8 L1209.2,773.6 L1213.5,773.9 L1218.2,774.6 L1222.2,774.4 L1226.9,775.1 L1232.2,775.3 L1235.6,774.8 L1240.3,775.3 L1244.6,776.2 L1249.6,777.1 L1254.0,777.9 L1258.3,777.3 L1262.7,776.1 L1267.0,775.2 L1271.4,775.2 L1275.8,774.2 L1280.4,773.7 L1285.1,773.8 L1290.1,774.4 L1294.4,774.3 L1298.8,774.8 L1303.1,774.9 L1307.8,775.3 L1312.5,775.5 L1317.1,775.4 L1321.2,775.6 L1325.5,775.9 L1329.9,774.8 L1334.3,774.4 L1338.9,774.3 L1343.0,774.3 L1347.3,774.0 L1351.7,774.2 L1356.0,774.2" fill="none" stroke="#3f72fb" stroke-width="2"/></g>
<circle cx="90" cy="741.5" r="7" fill="#fff"/><circle cx="1357" cy="741.5" r="7" fill="#fff"/>
</svg>
</body></html>
